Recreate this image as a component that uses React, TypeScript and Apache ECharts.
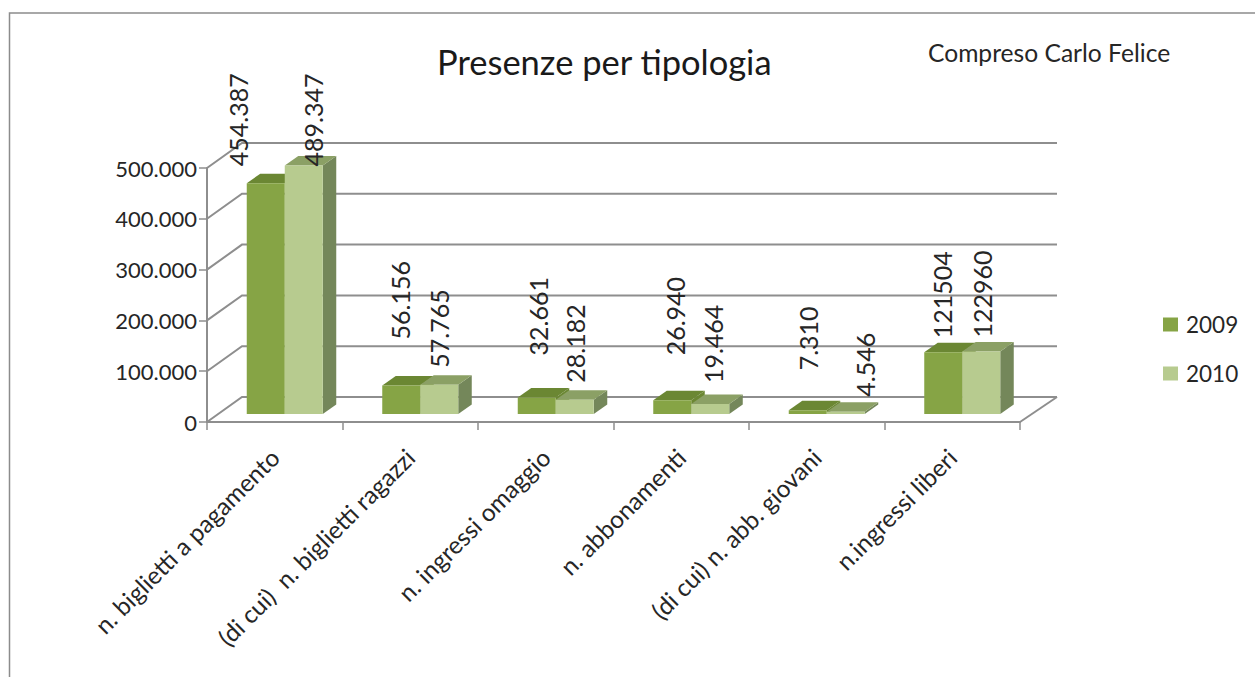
import React, { useEffect, useRef } from "react";
import * as echarts from "echarts";

const categories = [
  "n. biglietti a pagamento",
  "(di cui)  n. biglietti ragazzi",
  "n. ingressi omaggio",
  "n. abbonamenti",
  "(di cui) n. abb. giovani",
  "n.ingressi liberi",
];
const values2009 = [454387, 56156, 32661, 26940, 7310, 121504];
const values2010 = [489347, 57765, 28182, 19464, 4546, 122960];
const labels2009 = ["454.387", "56.156", "32.661", "26.940", "7.310", "121504"];
const labels2010 = ["489.347", "57.765", "28.182", "19.464", "4.546", "122960"];
const yTicks = [0, 100000, 200000, 300000, 400000, 500000];

// [dx from bar centre, gap above the bar top] of each hand-placed data label
const labelPlace2009 = [[-28, 17], [-1, 46], [1, 42], [3, 45], [0, 40], [-1, 14]];
const labelPlace2010 = [[9, -1], [0, 17], [0, 17], [3, 21], [19, 15], [1, 14]];

const FONT = "Lato";
const TEXT = "#262626";
const WALL = "#8e8e8e";
const WALL_DX = 35;
const WALL_DY = -25;

const barSeries = (
  name: string,
  values: number[],
  labels: string[],
  place: number[][],
  leftOff: number,
  colors: { face: string; top: string; side: string }
) => ({
  type: "custom",
  name,
  z: 3,
  itemStyle: { color: colors.face },
  data: values.map((v, i) => [i, v]),
  encode: { x: 0, y: 1 },
  renderItem: (_p: any, api: any) => {
    const i = api.value(0);
    const top = api.coord([i, api.value(1)]);
    const base = api.coord([i, 0]);
    const w = 38;
    const l = top[0] + leftOff;
    const r = l + w;
    const by = base[1] - 8;
    const ty = top[1] - 8;
    const dx = 13.5;
    const dy = -9.5;
    return {
      type: "group",
      children: [
        {
          type: "polygon",
          shape: { points: [[r, by], [r + dx, by + dy], [r + dx, ty + dy], [r, ty]] },
          style: { fill: colors.side },
        },
        {
          type: "polygon",
          shape: { points: [[l, ty], [r, ty], [r + dx, ty + dy], [l + dx, ty + dy]] },
          style: { fill: colors.top },
        },
        { type: "rect", shape: { x: l, y: ty, width: w, height: by - ty }, style: { fill: colors.face } },
        {
          type: "text",
          x: l + w / 2 + place[i][0],
          y: ty - place[i][1],
          rotation: Math.PI / 2,
          z2: 50,
          style: {
            text: labels[i],
            fontFamily: FONT,
            fontSize: 25,
            fill: TEXT,
            align: "left",
            verticalAlign: "middle",
          },
        },
      ],
    };
  },
});

export default function App() {
  const ref = useRef<HTMLDivElement>(null);
  useEffect(() => {
    document.body.style.margin = "0";
    document.body.style.overflow = "hidden";
    const chart = echarts.init(ref.current!, undefined, { renderer: "svg" });
    chart.setOption({
      animation: false,
      backgroundColor: "#ffffff",
      title: [
        {
          text: "Presenze per tipologia",
          left: 432,
          top: 39,
          textStyle: { fontFamily: FONT, fontSize: 34.5, fontWeight: "normal", color: "#1a1a1a" },
        },
        {
          text: "Compreso Carlo Felice",
          left: 923,
          top: 35,
          textStyle: { fontFamily: FONT, fontSize: 24.6, fontWeight: "normal", color: TEXT },
        },
      ],
      legend: {
        data: ["2009", "2010"],
        orient: "vertical",
        left: 1158,
        top: 308,
        itemWidth: 15,
        itemHeight: 14,
        itemGap: 26,
        icon: "rect",
        selectedMode: false,
        textStyle: { fontFamily: FONT, fontSize: 22.5, color: TEXT, padding: [0, 0, 4, 3] },
      },
      grid: { left: 207, right: 235, top: 168, bottom: 255 },
      xAxis: {
        type: "category",
        data: categories,
        axisLine: { lineStyle: { color: WALL, width: 2 } },
        axisTick: { show: true, length: 8, lineStyle: { color: WALL, width: 1.5 } },
        axisLabel: {
          rotate: 45,
          interval: 0,
          margin: 31,
          fontFamily: FONT,
          fontSize: 24.4,
          color: TEXT,
        },
      },
      yAxis: {
        type: "value",
        min: 0,
        max: 500000,
        interval: 100000,
        axisLine: { show: true, lineStyle: { color: WALL, width: 2 } },
        axisTick: { show: true, length: 8, lineStyle: { color: WALL, width: 1.5 } },
        splitLine: { show: false },
        axisLabel: {
          margin: 10,
          fontFamily: FONT,
          fontSize: 22,
          color: TEXT,
          formatter: (v: number) => (v === 0 ? "0" : `${v / 1000}.000`),
        },
      },
      graphic: [
        {
          type: "polyline",
          shape: { points: [[9.5, 677], [9.5, 13], [1255, 13]] },
          style: { stroke: "#8c8c8c", lineWidth: 1.5, fill: "none" },
          silent: true,
        },
      ],
      series: [
        {
          type: "custom",
          name: "griglia",
          z: 1,
          silent: true,
          data: yTicks.map((v) => [0, v]),
          encode: { x: 0, y: 1 },
          renderItem: (params: any, api: any) => {
            const y = api.coord([0, api.value(1)])[1];
            const cs = params.coordSys;
            const x0 = cs.x;
            const x1 = cs.x + cs.width;
            return {
              type: "group",
              children: [
                {
                  type: "polyline",
                  shape: {
                    points: [[x0, y], [x0 + WALL_DX, y + WALL_DY], [x1 + WALL_DX + 2, y + WALL_DY]],
                  },
                  style: { stroke: WALL, lineWidth: 2, fill: "none" },
                },
              ],
            };
          },
        },
        {
          type: "custom",
          name: "pavimento",
          z: 1,
          silent: true,
          data: [[5, 0]],
          encode: { x: 0, y: 1 },
          renderItem: (params: any, api: any) => {
            const y = api.coord([5, 0])[1];
            const cs = params.coordSys;
            const x1 = cs.x + cs.width;
            return {
              type: "line",
              shape: { x1, y1: y, x2: x1 + WALL_DX + 2, y2: y + WALL_DY },
              style: { stroke: WALL, lineWidth: 2 },
            };
          },
        },
        barSeries("2009", values2009, labels2009, labelPlace2009, -28, {
          face: "#86a445",
          top: "#6b8733",
          side: "#6b8733",
        }),
        barSeries("2010", values2010, labels2010, labelPlace2010, 10, {
          face: "#b7cb8f",
          top: "#8ba065",
          side: "#74875a",
        }),
      ],
    });
    return () => chart.dispose();
  }, []);
  return <div ref={ref} style={{ position: "absolute", left: 0, top: 0, width: 1255, height: 677 }} />;
}
